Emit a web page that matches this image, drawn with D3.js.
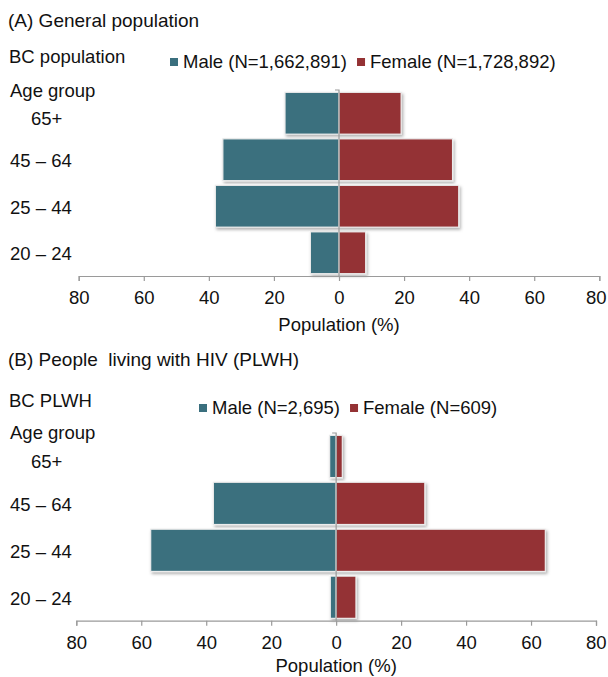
<!DOCTYPE html>
<html>
<head>
<meta charset="utf-8">
<script src="https://cdn.jsdelivr.net/npm/d3@7"></script>
<style>
  body { margin: 0; background: #fff; }
  svg text { font-family: "Liberation Sans", Arial, Helvetica, sans-serif; fill: #111; white-space: pre; }
</style>
</head>
<body>
<div id="chart"></div>
<script>
// age groups, top to bottom
const ageGroups = ["65+", "45 – 64", "25 – 44", "20 – 24"];
// BC general population, % of each sex
const bcMale = [16.6, 35.7, 38.0, 8.8];
const bcFemale = [19.1, 34.9, 36.8, 8.2];
// BC people living with HIV, % of each sex
const plwhMale = [2.0, 37.8, 57.1, 1.8];
const plwhFemale = [1.9, 27.3, 64.4, 6.1];
const tickValues = [-80, -60, -40, -20, 0, 20, 40, 60, 80];

const maleColor = "#3a6f7e";
const femaleColor = "#943234";
const fs = "18.5px";

const width = 608, height = 677;

const svg = d3.select("#chart").append("svg")
  .attr("width", width)
  .attr("height", height);

// soft shadow under the bars
const defs = svg.append("defs");
defs.append("filter")
    .attr("id", "shadow")
    .attr("x", "-10%").attr("y", "-10%")
    .attr("width", "130%").attr("height", "140%")
  .append("feDropShadow")
    .attr("dx", 1.5).attr("dy", 2)
    .attr("stdDeviation", 1.5)
    .attr("flood-color", "#000")
    .attr("flood-opacity", 0.3);

const panels = [
  {
    title: "(A) General population", titleY: 20,
    sub: "BC population", subY: 57,
    legendY: 62, legendX: 170,
    maleLabel: "Male (N=1,662,891)", femaleLabel: "Female (N=1,728,892)",
    ageY: 91,
    top: 90, bottom: 276, left: 78.7, right: 599.3, axisTitleGap: 49,
    male: bcMale, female: bcFemale
  },
  {
    title: "(B) People  living with HIV (PLWH)", titleY: 359,
    sub: "BC PLWH", subY: 401,
    legendY: 408, legendX: 199,
    maleLabel: "Male (N=2,695)", femaleLabel: "Female (N=609)",
    ageY: 433,
    top: 433, bottom: 620.7, left: 76.3, right: 596, axisTitleGap: 45,
    male: plwhMale, female: plwhFemale
  }
];

panels.forEach(drawPanel);

function drawPanel(p) {
  const g = svg.append("g");

  const x = d3.scaleLinear().domain([-80, 80]).range([p.left, p.right]);
  const y = d3.scaleBand().domain(ageGroups)
    .range([p.top, p.bottom])
    .paddingInner(0.1).paddingOuter(0.05);

  // headings
  g.append("text").attr("x", 8).attr("y", p.titleY).attr("dy", "0.35em")
    .style("font-size", "19px").text(p.title);
  g.append("text").attr("x", 9).attr("y", p.subY).attr("dy", "0.35em")
    .style("font-size", fs).text(p.sub);
  g.append("text").attr("x", 10).attr("y", p.ageY).attr("dy", "0.35em")
    .style("font-size", fs).text("Age group");

  // legend
  const lg = g.append("g");
  lg.append("rect").attr("x", p.legendX).attr("y", p.legendY - 4)
    .attr("width", 8).attr("height", 8).attr("fill", maleColor);
  const mt = lg.append("text").attr("x", p.legendX + 13).attr("y", p.legendY).attr("dy", "0.35em")
    .style("font-size", fs).text(p.maleLabel);
  const fx = p.legendX + 13 + mt.node().getComputedTextLength() + 10;
  lg.append("rect").attr("x", fx).attr("y", p.legendY - 4)
    .attr("width", 8).attr("height", 8).attr("fill", femaleColor);
  lg.append("text").attr("x", fx + 13).attr("y", p.legendY).attr("dy", "0.35em")
    .style("font-size", fs).text(p.femaleLabel);

  // category labels
  g.selectAll(".cat").data(ageGroups).enter().append("text")
    .attr("class", "cat")
    .attr("x", (d, i) => i === 0 ? 31 : 10)
    .attr("y", d => y(d) + y.bandwidth() / 2 + (d === "65+" ? 5 : 1))
    .attr("dy", "0.35em")
    .style("font-size", fs)
    .text(d => d);

  // bars
  const rows = ageGroups.map((d, i) => ({ age: d, m: p.male[i], f: p.female[i] }));
  const bars = g.append("g").attr("filter", "url(#shadow)");
  bars.selectAll(".male").data(rows).enter().append("rect")
    .attr("class", "male")
    .attr("x", d => x(-d.m)).attr("y", d => y(d.age))
    .attr("width", d => x(0) - x(-d.m)).attr("height", y.bandwidth())
    .attr("fill", maleColor)
    .attr("stroke", "#ececec").attr("stroke-width", 1.2);
  bars.selectAll(".female").data(rows).enter().append("rect")
    .attr("class", "female")
    .attr("x", x(0)).attr("y", d => y(d.age))
    .attr("width", d => x(d.f) - x(0)).attr("height", y.bandwidth())
    .attr("fill", femaleColor)
    .attr("stroke", "#ececec").attr("stroke-width", 1.2);

  // centre (category) axis line
  g.append("path")
    .attr("d", `M${x(0) - 4},${p.top}H${x(0)}V${p.bottom}`)
    .attr("fill", "none").attr("stroke", "#9a9a9a").attr("stroke-width", 1.2);

  // value axis
  const ax = g.append("g").attr("transform", `translate(0,${p.bottom})`)
    .call(d3.axisBottom(x).tickValues(tickValues).tickSize(5).tickSizeOuter(5)
      .tickPadding(10).tickFormat(d => Math.abs(d)));
  ax.select(".domain").attr("stroke", "#9a9a9a").attr("stroke-width", 1.2);
  ax.selectAll(".tick line").attr("stroke", "#9a9a9a").attr("stroke-width", 1.2);
  ax.selectAll(".tick text").style("font-size", fs).attr("fill", "#111");
  // keep the last label inside the page
  ax.selectAll(".tick text").filter(d => d === 80)
    .attr("text-anchor", "end").attr("x", width - 2 - x(80));

  g.append("text")
    .attr("x", x(0)).attr("y", p.bottom + p.axisTitleGap).attr("dy", "0.35em")
    .attr("text-anchor", "middle")
    .style("font-size", fs)
    .text("Population (%)");
}
</script>
</body>
</html>
